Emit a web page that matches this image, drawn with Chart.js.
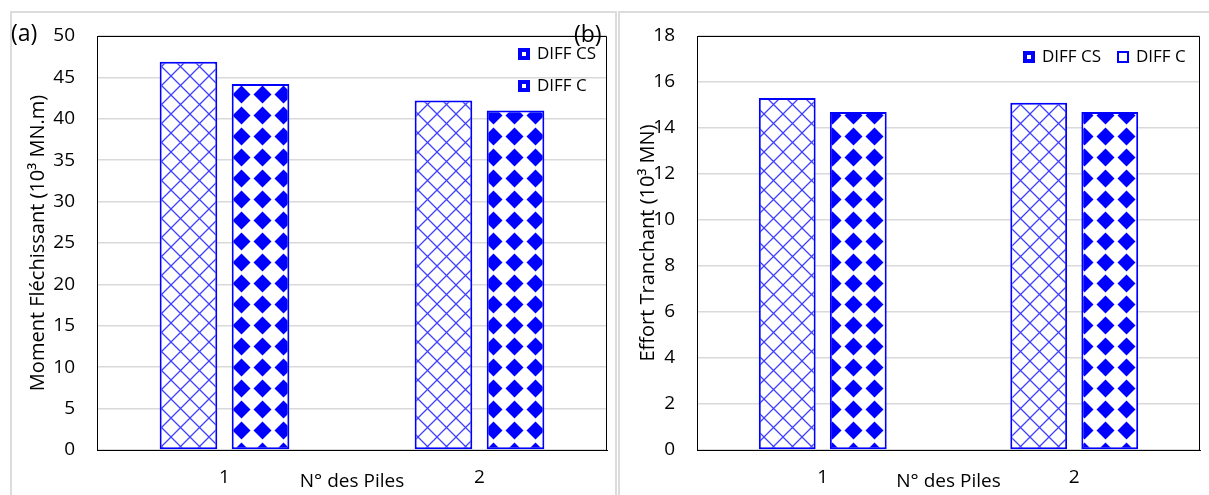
<!DOCTYPE html>
<html>
<head>
<meta charset="utf-8">
<script src="https://cdn.jsdelivr.net/npm/chart.js@4.4.1/dist/chart.umd.min.js"></script>
<style>
  html, body { margin: 0; padding: 0; background: #fff; }
  body { width: 1209px; height: 495px; position: relative; overflow: hidden; font-family: 'Open Sans', sans-serif; }
  .panel { position: absolute; border: 2px solid #dcdcdc; box-sizing: border-box; }
  canvas { position: absolute; top: 0; }
  .tag { position: absolute; font-size: 23px; color: #000; line-height: 1; }
</style>
</head>
<body>
<div class="panel" style="left:10px;top:11px;width:607px;height:500px;"></div>
<div class="panel" style="left:618px;top:11px;width:620px;height:500px;"></div>
<canvas id="momentChart" width="612" height="495" style="left:0"></canvas>
<canvas id="effortChart" width="597" height="495" style="left:612px"></canvas>
<div class="tag" style="left:11px;top:21px;">(a)</div>
<div class="tag" style="left:574px;top:22px;">(b)</div>
<script>
// data
const categories = ['1', '2'];
const seriesNames = ['DIFF CS', 'DIFF C'];
const momentCS = [46.9, 42.2];
const momentC = [44.2, 41.0];
const effortCS = [15.3, 15.1];
const effortC = [14.7, 14.7];

const BLUE = '#0000ff';
const FONT = "'Open Sans', sans-serif";

// crosshatch pattern (DIFF CS)
function crossPattern() {
    const P = 19;
    const c = document.createElement('canvas');
    c.width = P; c.height = P;
    const g = c.getContext('2d');
    g.fillStyle = '#fff';
    g.fillRect(0, 0, P, P);
    g.strokeStyle = '#4040ff';
    g.lineWidth = 1.3;
    for (let dx = -P; dx <= P; dx += P) {
        g.beginPath();
        g.moveTo(dx, 0); g.lineTo(dx + P, P);
        g.moveTo(dx + P, 0); g.lineTo(dx, P);
        g.stroke();
    }
    return g.createPattern(c, 'repeat');
}

// diamond pattern (DIFF C)
function diamondPattern() {
    const P = 21, r = 9;
    const c = document.createElement('canvas');
    c.width = P; c.height = P;
    const g = c.getContext('2d');
    g.fillStyle = '#fff';
    g.fillRect(0, 0, P, P);
    g.fillStyle = BLUE;
    g.beginPath();
    g.moveTo(P / 2, P / 2 - r);
    g.lineTo(P / 2 + r, P / 2);
    g.lineTo(P / 2, P / 2 + r);
    g.lineTo(P / 2 - r, P / 2);
    g.closePath();
    g.fill();
    return g.createPattern(c, 'repeat');
}

// frame, axis titles and legend
const decor = {
    id: 'decor',
    afterDraw(chart, args, opts) {
        const ctx = chart.ctx;
        const a = chart.chartArea;
        ctx.save();
        ctx.strokeStyle = '#000';
        ctx.lineWidth = 1;
        ctx.beginPath();
        ctx.moveTo(a.left, a.top + 0.5);
        ctx.lineTo(a.right - 0.5, a.top + 0.5);
        ctx.lineTo(a.right - 0.5, a.bottom);
        ctx.stroke();

        ctx.fillStyle = '#000';
        ctx.font = '19px ' + FONT;
        ctx.textAlign = 'center';
        ctx.textBaseline = 'middle';
        ctx.fillText('N° des Piles', (a.left + a.right) / 2, opts.xTitleY);

        ctx.save();
        ctx.translate(opts.yTitleX, (a.top + a.bottom) / 2);
        ctx.rotate(-Math.PI / 2);
        ctx.font = '20px ' + FONT;
        ctx.fillText(opts.yTitle, 0, 0);
        ctx.restore();

        ctx.font = '17px ' + FONT;
        ctx.textAlign = 'left';
        chart.data.datasets.forEach((ds, i) => {
            const [bx, by] = opts.legend[i];
            const s = 10;
            ctx.fillStyle = opts.boxFill[i];
            ctx.fillRect(bx, by - s / 2, s, s);
            ctx.strokeStyle = BLUE;
            ctx.lineWidth = 2;
            ctx.strokeRect(bx, by - s / 2, s, s);
            if (opts.boxFill[i] === BLUE) {
                ctx.fillStyle = '#fff';
                ctx.fillRect(bx + 3, by - 2, 4, 4);
            }
            ctx.fillStyle = '#000';
            ctx.fillText(ds.label, bx + 18, by);
        });
        ctx.restore();
    }
};

function makeChart(id, csData, cData, yMax, yStep, yWidth, padRight, plugOpts) {
    const ctx = document.getElementById(id).getContext('2d');
    return new Chart(ctx, {
        type: 'bar',
        data: {
            labels: categories,
            datasets: [{
                label: seriesNames[0],
                data: csData,
                backgroundColor: crossPattern(),
                borderColor: BLUE,
                borderWidth: 2,
                borderSkipped: false
            }, {
                label: seriesNames[1],
                data: cData,
                backgroundColor: diamondPattern(),
                borderColor: BLUE,
                borderWidth: 2,
                borderSkipped: false
            }]
        },
        options: {
            responsive: false,
            animation: false,
            categoryPercentage: 0.565,
            barPercentage: 0.8,
            layout: { padding: { top: 36, right: padRight, bottom: 0, left: 0 } },
            plugins: {
                legend: { display: false },
                tooltip: { enabled: false },
                decor: plugOpts
            },
            scales: {
                x: {
                    grid: { display: false, drawTicks: false },
                    border: { color: '#000', width: 1 },
                    ticks: { color: '#000', font: { family: FONT, size: 19 }, padding: 16 },
                    afterFit(scale) { scale.height = 45; }
                },
                y: {
                    min: 0,
                    max: yMax,
                    grid: { color: '#d9d9d9', lineWidth: 1.5, drawTicks: false },
                    border: { color: '#000', width: 1 },
                    ticks: { stepSize: yStep, color: '#000', font: { family: FONT, size: 19 }, padding: 22 },
                    afterFit(scale) { scale.width = yWidth; }
                }
            }
        },
        plugins: [decor]
    });
}

document.addEventListener('DOMContentLoaded', function() {
    makeChart('momentChart', momentCS, momentC, 50, 5, 97, 5, {
        yTitle: 'Moment Fléchissant (10³ MN.m)',
        yTitleX: 38,
        xTitleY: 482,
        legend: [[519, 54], [519, 86]],
        boxFill: [BLUE, BLUE]
    });
    makeChart('effortChart', effortCS, effortC, 18, 2, 85, 9, {
        yTitle: 'Effort Tranchant (10³ MN)',
        yTitleX: 36,
        xTitleY: 482,
        legend: [[412, 57], [506, 57]],
        boxFill: [BLUE, '#fff']
    });
});
</script>
</body>
</html>
